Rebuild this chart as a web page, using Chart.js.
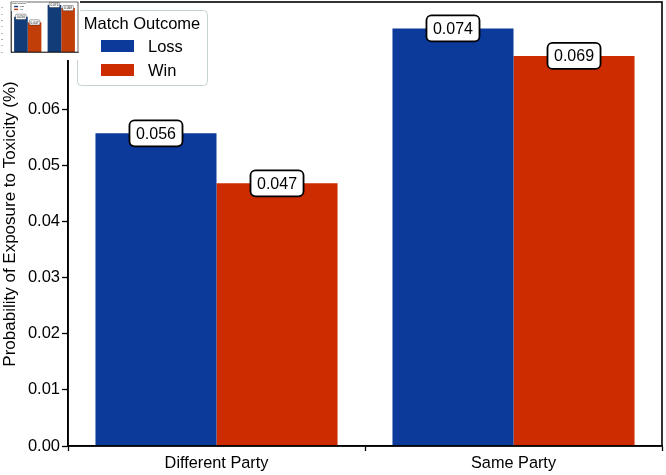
<!DOCTYPE html>
<html>
<head>
<meta charset="utf-8">
<script src="https://cdn.jsdelivr.net/npm/chart.js@4"></script>
<style>
html,body{margin:0;padding:0;background:#fff;}
#wrap{position:relative;width:666px;height:475px;}
#main{position:absolute;left:0;top:0;}
#inset{position:absolute;left:0;top:0;width:80px;height:60px;background:#fff;}
</style>
</head>
<body>
<div id="wrap">
<canvas id="main" width="666" height="475"></canvas>
<div id="inset"><canvas id="mini" width="80" height="60"></canvas></div>
</div>
<script>
const categories = ["Different Party", "Same Party"];
const seriesNames = ["Loss", "Win"];
const lossValues = [0.0557, 0.0744];
const winValues = [0.0468, 0.0695];
const yTicks = [0.00, 0.01, 0.02, 0.03, 0.04, 0.05, 0.06, 0.07];
const valueLabels = [["0.056", "0.074"], ["0.047", "0.069"]];
const legendTitle = "Match Outcome";
const yTitle = "Probability of Exposure to Toxicity (%)";

const FONT = "'Liberation Sans', Arial, Helvetica, sans-serif";
const colors = ["#0b3a9b", "#cc2c00"];

const framePlugin = {
  id: 'frame',
  afterDraw(chart, args, opts) {
    const a = chart.chartArea, ctx = chart.ctx;
    ctx.save();
    ctx.strokeStyle = '#000';
    ctx.lineWidth = opts.width || 1.6;
    ctx.strokeRect(a.left, a.top, a.right - a.left, a.bottom - a.top);
    ctx.restore();
  }
};

const labelPlugin = {
  id: 'vlabels',
  afterDatasetsDraw(chart, args, opts) {
    const ctx = chart.ctx;
    const s = opts.scale || 1;
    ctx.save();
    ctx.font = (16 * s) + "px " + FONT;
    ctx.textAlign = 'center';
    ctx.textBaseline = 'middle';
    chart.data.datasets.forEach((ds, di) => {
      const meta = chart.getDatasetMeta(di);
      meta.data.forEach((bar, i) => {
        const txt = valueLabels[di][i];
        const w = ctx.measureText(txt).width + 13 * s;
        const h = 26 * s;
        const x = bar.x - w / 2, y = bar.y - h / 2;
        ctx.beginPath();
        ctx.roundRect(x, y, w, h, 5 * s);
        ctx.fillStyle = '#fff';
        ctx.fill();
        ctx.lineWidth = 1.8 * s;
        ctx.strokeStyle = '#000';
        ctx.stroke();
        ctx.fillStyle = '#000';
        ctx.fillText(txt, bar.x, bar.y + 1 * s);
      });
    });
    ctx.restore();
  }
};

const legendPlugin = {
  id: 'customLegend',
  afterDraw(chart, args, opts) {
    const ctx = chart.ctx;
    const s = opts.scale || 1, ox = opts.x || 0, oy = opts.y || 0;
    ctx.save();
    ctx.translate(ox, oy);
    ctx.scale(s, s);
    ctx.beginPath();
    ctx.roundRect(77.5, 10.5, 130, 75, 4);
    ctx.fillStyle = 'rgba(255,255,255,0.85)';
    ctx.fill();
    ctx.strokeStyle = '#c5d3d3';
    ctx.lineWidth = 1;
    ctx.stroke();
    ctx.fillStyle = '#000';
    ctx.font = "16.5px " + FONT;
    ctx.textAlign = 'center';
    ctx.textBaseline = 'middle';
    ctx.fillText(legendTitle, 142, 24);
    ctx.textAlign = 'left';
    chart.data.datasets.forEach((ds, i) => {
      const cy = 46 + i * 24;
      ctx.fillStyle = ds.backgroundColor;
      ctx.fillRect(101, cy - 6, 33, 12);
      ctx.fillStyle = '#000';
      ctx.fillText(ds.label, 148, cy + 1);
    });
    ctx.restore();
  }
};

new Chart(document.getElementById('main'), {
  type: 'bar',
  data: { labels: categories, datasets: [
    { label: seriesNames[0], data: lossValues, backgroundColor: colors[0], borderWidth: 0 },
    { label: seriesNames[1], data: winValues, backgroundColor: colors[1], borderWidth: 0 }
  ] },
  options: {
    responsive: false,
    animation: false,
    layout: { padding: { top: 2, right: 4, left: 0, bottom: 0 } },
    plugins: { legend: { display: false }, tooltip: { enabled: false }, frame: { width: 1.6 }, vlabels: { scale: 1 }, customLegend: { scale: 1 } },
    datasets: { bar: { categoryPercentage: 0.815, barPercentage: 1.0 } },
    scales: {
      x: {
        grid: { display: true, drawOnChartArea: false, drawTicks: true, tickLength: 5, tickColor: '#000', tickWidth: 1.3 },
        border: { display: true, color: '#000', width: 1.6 },
        ticks: { color: '#000', font: { family: FONT, size: 16.3 }, padding: 3 },
        afterFit(s) { s.height = 29; s.paddingLeft = 0; s.paddingRight = 0; }
      },
      y: {
        min: 0, max: 0.0791,
        afterBuildTicks(s) { s.ticks = yTicks.map(v => ({ value: v })); },
        grid: { display: true, drawOnChartArea: false, drawTicks: true, tickLength: 6, tickColor: '#000', tickWidth: 1.3 },
        border: { display: true, color: '#000', width: 1.6 },
        ticks: { color: '#000', font: { family: FONT, size: 16.5 }, padding: 2, callback: v => v.toFixed(2) },
        title: { display: true, text: yTitle, color: '#000', font: { family: FONT, size: 17 }, padding: { top: 0, bottom: 0 } },
        afterFit(s) { s.width = 68; s.paddingTop = 0; s.paddingBottom = 0; }
      }
    }
  },
  plugins: [framePlugin, labelPlugin, legendPlugin]
});

new Chart(document.getElementById('mini'), {
  type: 'bar',
  data: { labels: categories, datasets: [
    { label: seriesNames[0], data: lossValues, backgroundColor: '#123c78', borderWidth: 0 },
    { label: seriesNames[1], data: winValues, backgroundColor: '#c23e08', borderWidth: 0 }
  ] },
  options: {
    responsive: false,
    animation: false,
    layout: { padding: { top: 2, right: 2, left: 1, bottom: 1 } },
    plugins: { legend: { display: false }, tooltip: { enabled: false }, frame: { width: 0.6 }, vlabels: { scale: 0.2 }, customLegend: { scale: 0.12, x: 2, y: 1 } },
    datasets: { bar: { categoryPercentage: 0.815, barPercentage: 1.0 } },
    scales: {
      x: { grid: { display: false }, border: { color: '#000', width: 0.6 }, ticks: { font: { size: 3 }, color: '#444', padding: 1, maxRotation: 0 }, afterFit(s) { s.height = 7; s.paddingLeft = 0; s.paddingRight = 0; } },
      y: { min: 0, max: 0.0791, afterBuildTicks(s) { s.ticks = yTicks.map(v => ({ value: v })); }, grid: { display: false }, border: { color: '#000', width: 0.6 }, ticks: { font: { size: 2.5 }, color: '#444', padding: 0, callback: v => v.toFixed(2) }, afterFit(s) { s.width = 10; s.paddingTop = 0; s.paddingBottom = 0; } }
    }
  },
  plugins: [framePlugin, labelPlugin, legendPlugin]
});
</script>
</body>
</html>
